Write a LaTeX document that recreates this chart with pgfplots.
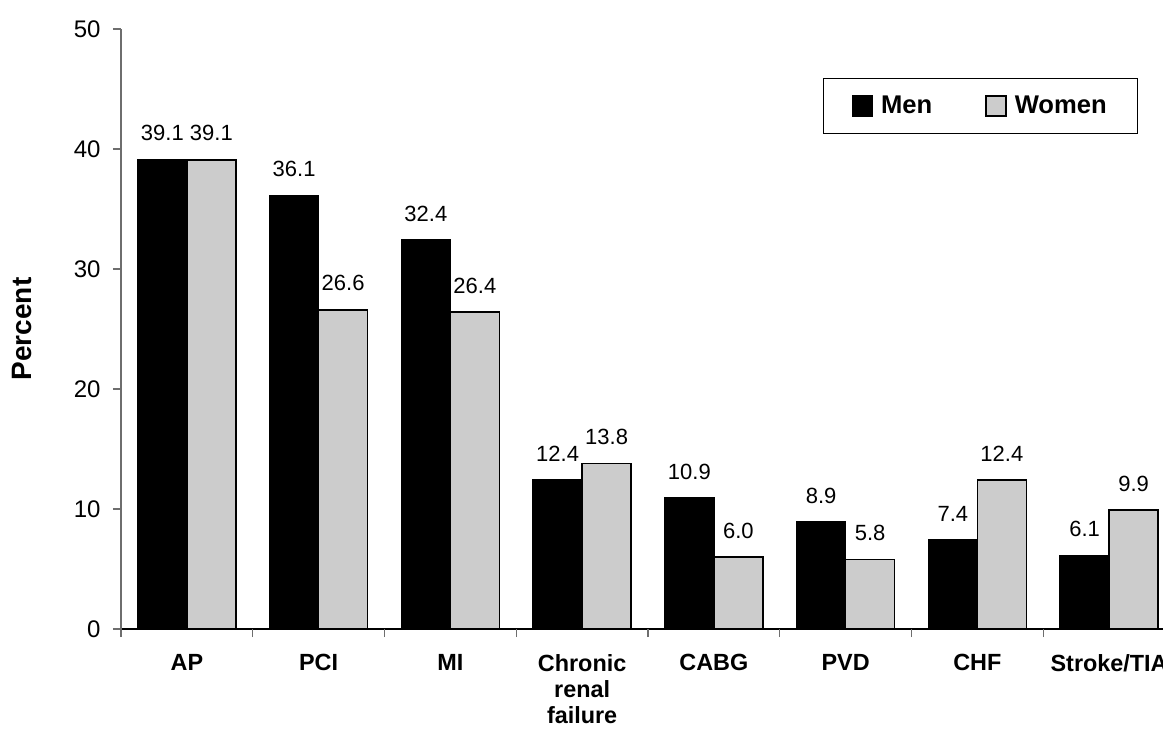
\documentclass[border=0pt]{standalone}
\usepackage{pgfplots}
\pgfplotsset{compat=1.18}
\usepackage{fontspec}
\setmainfont{Liberation Sans}

\definecolor{womengray}{RGB}{204,204,204}
\definecolor{axisgray}{RGB}{110,110,110}

\begin{document}
\begin{tikzpicture}
\begin{axis}[
  name=ax,
  scale only axis,
  width=527pt, height=300pt,
  xmin=-0.5, xmax=7.5,
  ymin=0, ymax=50,
  ytick={0,10,...,50},
  ybar=0pt,
  bar width=24.5pt,
  axis x line*=bottom,
  axis y line*=left,
  x axis line style={black, line width=0.9pt, -},
  y axis line style={axisgray, line width=0.6pt, -},
  tick align=outside,
  major tick length=4pt,
  ytick style={axisgray, line width=0.6pt},
  xtick={0,...,7},
  xticklabels={AP, PCI, MI, {Chronic\\renal\\failure}, CABG, PVD, CHF, Stroke/TIA},
  xtick style={draw=none},
  extra x ticks={-0.5,0.5,...,7.5},
  extra x tick labels={},
  extra x tick style={xtick style={draw=axisgray, line width=0.6pt}},
  xticklabel style={font=\bfseries\fontsize{11.7}{13}\selectfont, align=center, anchor=north, yshift=-5pt},
  yticklabel style={font=\fontsize{12}{14}\selectfont, anchor=east, inner sep=0pt, xshift=-6pt},
  /pgf/number format/assume math mode=true,
  ylabel={Percent},
  ylabel style={font=\bfseries\fontsize{14}{16}\selectfont, at={(axis description cs:-0.094,0.5)}, anchor=center},
  nodes near coords={\pgfmathprintnumber[fixed,fixed zerofill,precision=1]{\pgfplotspointmeta}},
  every node near coord/.append style={font=\fontsize{11}{13}\selectfont, text=black, inner sep=0pt, anchor=south, yshift=9pt},
  legend columns=2,
  legend style={at={(rel axis cs:0.666,0.918)}, anchor=north west, draw=black, line width=0.6pt,
    font=\bfseries\fontsize{12.8}{15}\selectfont, inner xsep=14pt, inner ysep=7pt,
    nodes={inner sep=1.5pt},
    /tikz/every even column/.append style={column sep=25pt}},
  legend image code/.code={\draw[#1] (0pt,-5pt) rectangle (10pt,5pt); \path (12.5pt,0pt);},
]
% Men
\addplot[fill=black, draw=black, line width=0.75pt]
  coordinates {(0,39.1) (1,36.1) (2,32.4) (3,12.4) (4,10.9) (5,8.9) (6,7.4) (7,6.1)};
% Women
\addplot[fill=womengray, draw=black, line width=0.75pt]
  coordinates {(0,39.1) (1,26.6) (2,26.4) (3,13.8) (4,6.0) (5,5.8) (6,12.4) (7,9.9)};
\legend{Men, Women}
\end{axis}
\pgfresetboundingbox
\path ([shift={(-60.5pt,-50pt)}]ax.south west) rectangle ([shift={(521pt,314.5pt)}]ax.south west);
\end{tikzpicture}
\end{document}
